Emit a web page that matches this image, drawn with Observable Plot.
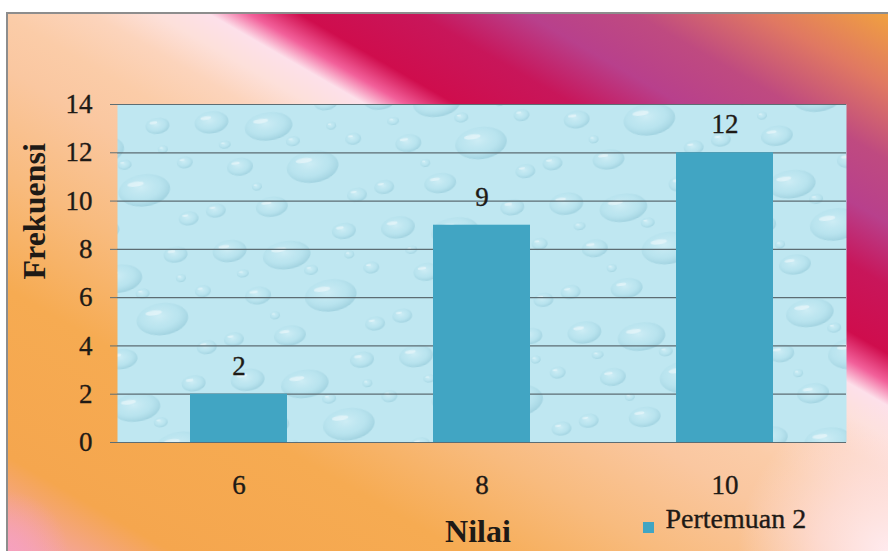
<!DOCTYPE html>
<html>
<head>
<meta charset="utf-8">
<script src="https://cdn.jsdelivr.net/npm/d3@7"></script>
<script src="https://cdn.jsdelivr.net/npm/@observablehq/plot@0.6"></script>
<style>
  html, body { margin: 0; padding: 0; background: #ffffff; }
  #wrap { position: relative; width: 888px; height: 551px; overflow: hidden; }
  #bg {
    position: absolute; left: 6px; top: 12px; right: 0; bottom: 0;
    border-left: 2px solid #8d8d8d; border-top: 2px solid #8d8d8d;
    background:
      radial-gradient(circle at 100% 100%, rgba(255,236,242,0.95) 0px, rgba(255,230,238,0.6) 70px, rgba(255,230,238,0) 150px),
      radial-gradient(circle at 0% 100%, rgba(246,160,190,0.9) 0px, rgba(246,160,190,0) 60px),
      linear-gradient(30deg, #f4a4b8 0%, #f5a64e 9%, #f6ab52 25%, #f8bb7e 36%, #fac7a0 46%, #fbcca8 51%, #fcd4bc 56%, #fde0da 59.5%, #fde0ea 62.5%, #f2609a 64.7%, #cf0d4d 67.5%, #c8165a 74%, #b8408c 80%, #bf4a80 86%, #e07862 93%, #f0a040 100%);
  }
  #chart { position: absolute; left: 0; top: 0; }
  #chart g[aria-label="y-axis tick label"], #chart g[aria-label="x-axis tick label"] {
    stroke: #1e1a16; stroke-width: 0.35px;
  }
</style>
</head>
<body>
<div id="wrap"><div id="bg"></div><div id="chart"></div></div>
<script>
const categories = ["6", "8", "10"];
const frequencies = [2, 9, 12];
const yTicks = [0, 2, 4, 6, 8, 10, 12, 14];
const seriesName = "Pertemuan 2";
const xTitle = "Nilai";
const yTitle = "Frekuensi";

const data = categories.map((c, i) => ({nilai: c, frekuensi: frequencies[i]}));

const barColor = "#41a5c3";
const gridColor = "#5d6d73";
const textColor = "#1e1a16";
const serif = "'Liberation Serif', Tinos, 'Nimbus Roman', 'DejaVu Serif', serif";

const svg = Plot.plot({
  width: 888,
  height: 551,
  marginLeft: 117,
  marginRight: 42,
  marginTop: 104,
  marginBottom: 109,
  style: {background: "transparent", fontFamily: serif, fontSize: "27px", color: textColor, overflow: "visible"},
  x: {domain: categories, paddingInner: 0.6, paddingOuter: 0.3, label: null},
  y: {domain: [0, 14], ticks: yTicks, label: null},
  marks: [
    Plot.frame({fill: "#bfe7f1", stroke: null}),
    Plot.gridY(yTicks, {stroke: gridColor, strokeOpacity: 1, strokeWidth: 1.2}),
    Plot.barY(data, {x: "nilai", y: "frekuensi", fill: barColor}),
    Plot.text(data, {x: "nilai", y: "frekuensi", text: d => String(d.frekuensi), dy: -28, fontSize: 27, fontFamily: serif, fill: textColor, stroke: textColor, strokeWidth: 0.35}),
    Plot.axisY(yTicks, {tickSize: 7, tickPadding: 18, stroke: gridColor, fill: textColor, fontSize: 27, fontFamily: serif, label: null}),
    Plot.axisX({tickSize: 0, tickPadding: 32, fill: textColor, fontSize: 27, fontFamily: serif, label: null}),
    Plot.text([yTitle], {frameAnchor: "left", rotate: -90, dx: -83, dy: 6, fontWeight: "bold", fontSize: 32, fontFamily: serif, fill: textColor}),
    Plot.text([xTitle], {frameAnchor: "bottom", dx: -4, dy: 99, fontWeight: "bold", fontSize: 32, fontFamily: serif, fill: textColor}),
    Plot.dot([seriesName], {frameAnchor: "bottom-left", dx: 531, dy: 85, symbol: "square", r: 6.2, fill: barColor, stroke: null}),
    Plot.text([seriesName], {frameAnchor: "bottom-left", dx: 548, dy: 85, textAnchor: "start", fontSize: 28, fontFamily: serif, fill: textColor, stroke: textColor, strokeWidth: 0.35})
  ]
});

// water-drop texture over the plot frame
const s = d3.select(svg);
let frameRect = s.select("[aria-label=frame]");
if (!frameRect.empty() && frameRect.node().tagName.toLowerCase() !== "rect") frameRect = frameRect.select("rect");
if (!frameRect.empty()) {
  const defs = s.insert("defs", ":first-child");
  const rg = defs.append("radialGradient").attr("id", "dropGrad").attr("cx", "45%").attr("cy", "40%").attr("r", "60%");
  rg.append("stop").attr("offset", "0%").attr("stop-color", "#e8f8fc").attr("stop-opacity", 0.35);
  rg.append("stop").attr("offset", "60%").attr("stop-color", "#a9dbe8").attr("stop-opacity", 0.25);
  rg.append("stop").attr("offset", "100%").attr("stop-color", "#7db9cb").attr("stop-opacity", 0.45);
  const pat = defs.append("pattern").attr("id", "drops").attr("patternUnits", "userSpaceOnUse")
    .attr("width", 170).attr("height", 130).attr("patternTransform", "rotate(-8)");
  pat.append("rect").attr("width", 170).attr("height", 130).attr("fill", "#bfe7f1");
  const drops = [
    [22, 20, 17, 11], [78, 32, 24, 14], [138, 16, 12, 8], [44, 68, 13, 9], [116, 78, 26, 16],
    [14, 108, 10, 7], [70, 112, 16, 10], [156, 112, 10, 7], [100, 50, 7, 5], [32, 44, 6, 4],
    [160, 56, 8, 6], [58, 90, 5, 4], [140, 40, 5, 4]
  ];
  drops.forEach(([cx, cy, rx, ry]) => {
    pat.append("ellipse").attr("cx", cx).attr("cy", cy).attr("rx", rx).attr("ry", ry).attr("fill", "url(#dropGrad)");
    pat.append("ellipse").attr("cx", cx - rx * 0.3).attr("cy", cy - ry * 0.45).attr("rx", rx * 0.32).attr("ry", ry * 0.16)
      .attr("fill", "#ffffff").attr("fill-opacity", 0.45);
  });
  frameRect.attr("fill", "url(#drops)");
}

document.getElementById("chart").appendChild(svg);
</script>
</body>
</html>
